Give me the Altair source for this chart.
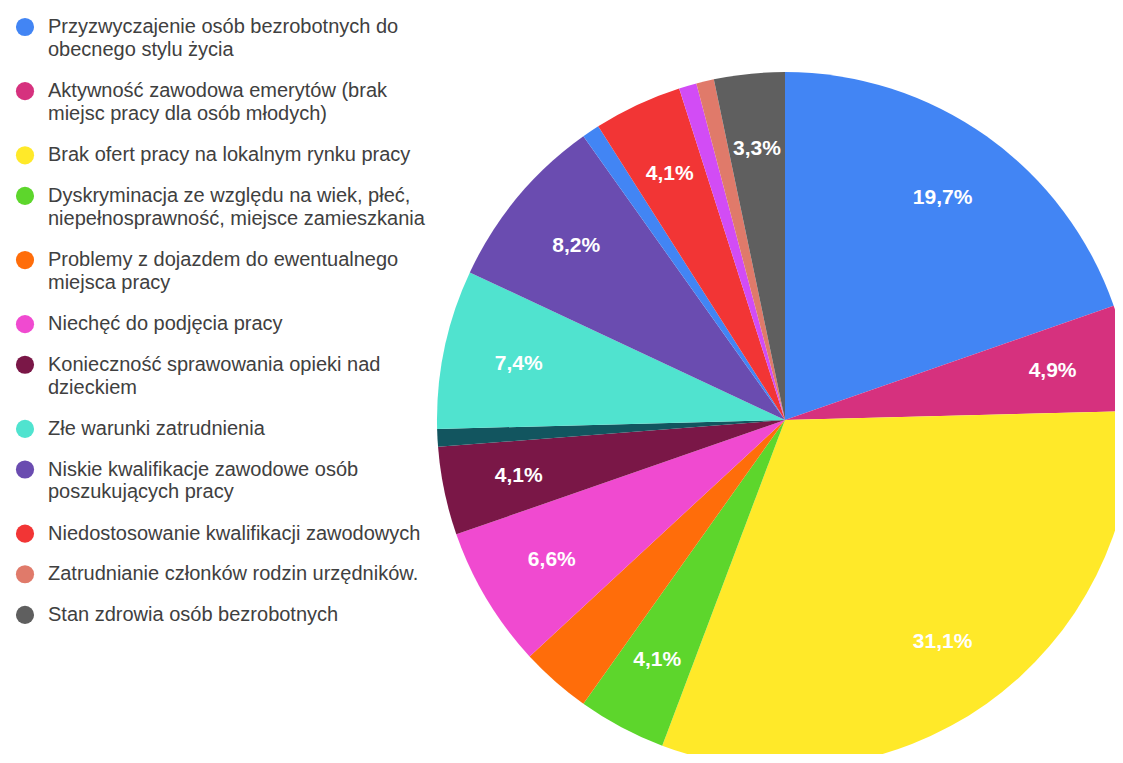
import altair as alt
import pandas as pd

# ---- pie slices, clockwise from 12 o'clock ----
categories = [
    "Przyzwyczajenie osób bezrobotnych do obecnego stylu życia",
    "Aktywność zawodowa emerytów (brak miejsc pracy dla osób młodych)",
    "Brak ofert pracy na lokalnym rynku pracy",
    "Dyskryminacja ze względu na wiek, płeć, niepełnosprawność, miejsce zamieszkania",
    "Problemy z dojazdem do ewentualnego miejsca pracy",
    "Niechęć do podjęcia pracy",
    "Konieczność sprawowania opieki nad dzieckiem",
    "Inna odpowiedź 1",
    "Złe warunki zatrudnienia",
    "Niskie kwalifikacje zawodowe osób poszukujących pracy",
    "Inna odpowiedź 2",
    "Niedostosowanie kwalifikacji zawodowych",
    "Inna odpowiedź 3",
    "Zatrudnianie członków rodzin urzędników.",
    "Stan zdrowia osób bezrobotnych",
]
counts = [24, 6, 38, 5, 4, 8, 5, 1, 9, 10, 1, 5, 1, 1, 4]
labelled = [True, True, True, True, False, True, True, False, True, True,
            False, True, False, False, True]
colors = [
    "#4285f4", "#d6317e", "#ffe929", "#5dd62c", "#ff6d0a", "#f04ad0",
    "#7a1747", "#12555f", "#50e3cf", "#6a4cb0", "#4285f4", "#f23535",
    "#d24cf5", "#e07a6a", "#5f5f5f",
]

# ---- legend entries (as wrapped in the reference) ----
legend_lines = [
    ["Przyzwyczajenie osób bezrobotnych do", "obecnego stylu życia"],
    ["Aktywność zawodowa emerytów (brak", "miejsc pracy dla osób młodych)"],
    ["Brak ofert pracy na lokalnym rynku pracy"],
    ["Dyskryminacja ze względu na wiek, płeć,", "niepełnosprawność, miejsce zamieszkania"],
    ["Problemy z dojazdem do ewentualnego", "miejsca pracy"],
    ["Niechęć do podjęcia pracy"],
    ["Konieczność sprawowania opieki nad", "dzieckiem"],
    ["Złe warunki zatrudnienia"],
    ["Niskie kwalifikacje zawodowe osób", "poszukujących pracy"],
    ["Niedostosowanie kwalifikacji zawodowych"],
    ["Zatrudnianie członków rodzin urzędników."],
    ["Stan zdrowia osób bezrobotnych"],
]

total = sum(counts)
pie = pd.DataFrame({
    "category": categories,
    "count": counts,
    "idx": list(range(len(categories))),
    "label": [
        (f"{100 * c / total:.1f}%".replace(".", ",") if show else "")
        for c, show in zip(counts, labelled)
    ],
})

# legend layout in "entry units": one unit per entry, extra for wrapped lines
EXTRA = 0.58   # extra space of a wrapped entry
LINE = 0.56    # offset of a second line
sym_rows, txt_rows = [], []
extra = 0
for k, lines in enumerate(legend_lines):
    cat = " ".join(lines)
    base = k + EXTRA * extra
    sym_rows.append({"category": cat, "pos": base})
    for j, t in enumerate(lines):
        txt_rows.append({"category": cat, "text": t, "pos": base + LINE * j})
    extra += len(lines) - 1
sym_df = pd.DataFrame(sym_rows)
txt_df = pd.DataFrame(txt_rows)

color_scale = alt.Scale(domain=categories, range=colors)
y_scale = alt.Scale(domain=[0, 14.5], range=[19, 607.7], nice=False, zero=False)

CX, CY, R = 777, 412, 348

arcs = alt.Chart(pie).mark_arc(radius=R, clip=True).encode(
    theta=alt.Theta("count:Q", stack=True),
    order=alt.Order("idx:Q"),
    color=alt.Color("category:N", scale=color_scale, legend=None),
    x=alt.value(CX),
    y=alt.value(CY),
)

labels = alt.Chart(pie).mark_text(
    radius=272, fontSize=21, fontWeight="bold", color="white",
    font="Liberation Sans", align="center", baseline="middle",
).encode(
    theta=alt.Theta("count:Q", stack=True),
    order=alt.Order("idx:Q"),
    text="label:N",
    x=alt.value(CX),
    y=alt.value(CY),
)

symbols = alt.Chart(sym_df).mark_circle(size=330, opacity=1).encode(
    x=alt.value(17),
    y=alt.Y("pos:Q", scale=y_scale, axis=None),
    color=alt.Color("category:N", scale=color_scale, legend=None),
)

texts = alt.Chart(txt_df).mark_text(
    align="left", baseline="middle", fontSize=20,
    font="Liberation Sans", color="#404040",
).encode(
    x=alt.value(40),
    y=alt.Y("pos:Q", scale=y_scale, axis=None),
    text="text:N",
)

chart = alt.layer(arcs, labels, symbols, texts).properties(
    width=1107, height=746,
    autosize=alt.AutoSizeParams(type="none"),
    padding=0,
).configure_view(stroke=None)

chart.save("out.html", embed_options={"renderer": "svg", "actions": False})
